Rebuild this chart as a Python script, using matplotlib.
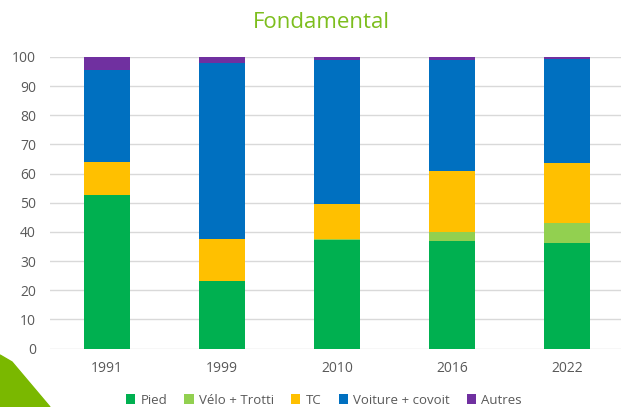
import matplotlib.pyplot as plt
from matplotlib.patches import Polygon
import numpy as np

# ---------------------- DATA ----------------------
years = ["1991", "1999", "2010", "2016", "2022"]
pied = [52.8, 23.1, 37.1, 36.8, 36.3]
velo = [0.0, 0.0, 0.3, 3.0, 6.6]
tc = [11.2, 14.6, 12.3, 21.1, 20.8]
voiture = [31.7, 60.1, 49.2, 38.0, 35.7]
autres = [4.3, 2.2, 1.1, 1.1, 0.6]

series_names = ["Pied", "Vélo + Trotti", "TC", "Voiture + covoit", "Autres"]
colors = ["#00B050", "#92D050", "#FFC000", "#0070C0", "#7030A0"]

plt.rcParams["font.family"] = ["Open Sans", "DejaVu Sans"]

fig = plt.figure(figsize=(6.21, 4.07), dpi=100)
ax = fig.add_axes([50 / 621, 1 - 348.5 / 407, 1 - 50 / 621, (348.5 - 57) / 407])

x = np.arange(len(years))
bottom = np.zeros(len(years))
for name, vals, c in zip(series_names, [pied, velo, tc, voiture, autres], colors):
    vals = np.array(vals)
    ax.bar(x, vals, width=0.4, bottom=bottom, color=c, label=name, zorder=3)
    bottom += vals

ax.set_ylim(0, 100)
ax.set_xlim(-0.496, 4.465)
ax.set_yticks(range(0, 101, 10))
ax.set_xticks(x)
ax.set_xticklabels(years)
ax.grid(axis="y", color="#D9D9D9", linewidth=1, zorder=0)
for s in ax.spines.values():
    s.set_visible(False)
ax.tick_params(length=0, colors="#595959", labelsize=10)
ax.tick_params(axis="x", pad=9)
ax.tick_params(axis="y", pad=10)

fig.text(0.517, 1 - 22 / 407, "Fondamental", color="#7DBE1E", fontsize=16,
         ha="center", va="center")

leg = fig.legend(loc="center", bbox_to_anchor=(324 / 621, 1 - 400 / 407), ncol=5,
                 frameon=False, fontsize=9.5, handlelength=0.7, handleheight=0.7,
                 handletextpad=0.4, columnspacing=1.3)
for t in leg.get_texts():
    t.set_color("#595959")

# green corner decoration
corner = Polygon([[0, 1 - 355 / 407], [12 / 621, 1 - 362 / 407], [50 / 621, 0], [0, 0]],
                 closed=True, transform=fig.transFigure, color="#7AB800", zorder=0)
fig.patches.append(corner)

fig.savefig("out.png", dpi=100)
